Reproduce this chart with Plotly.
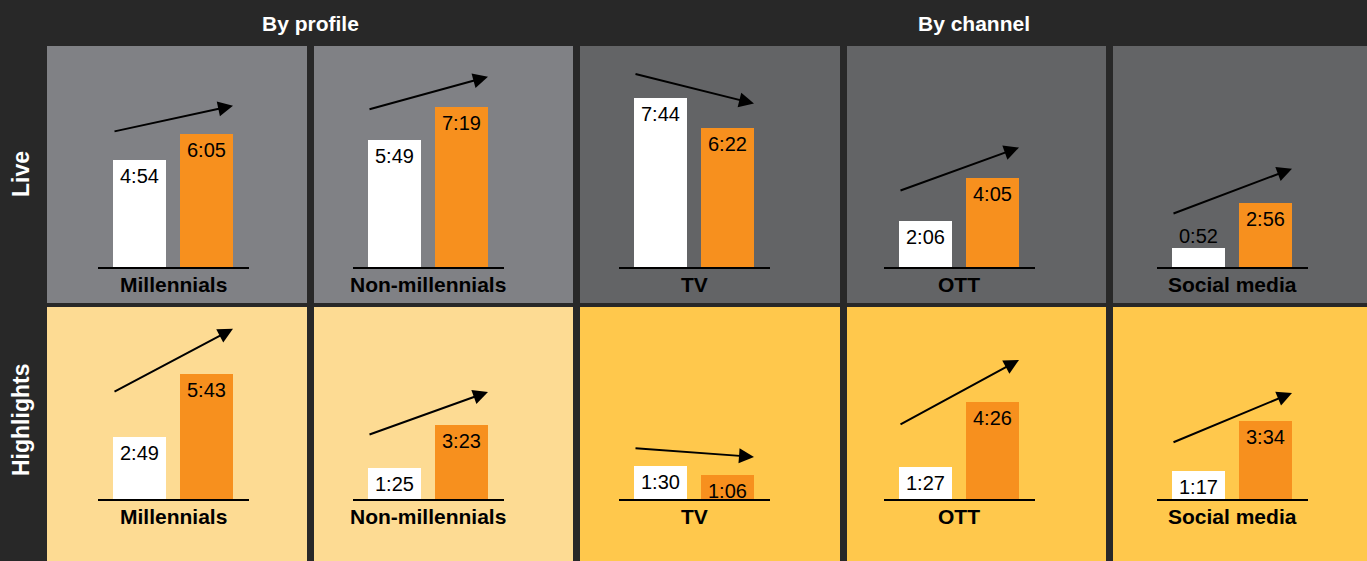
import plotly.graph_objects as go

# ---------------- data ----------------
panel_labels = ["Millennials", "Non-millennials", "TV", "OTT", "Social media"]
group_titles = ["By profile", "By channel"]
row_titles = ["Live", "Highlights"]

live_before = ["4:54", "5:49", "7:44", "2:06", "0:52"]
live_after = ["6:05", "7:19", "6:22", "4:05", "2:56"]
highlights_before = ["2:49", "1:25", "1:30", "1:27", "1:17"]
highlights_after = ["5:43", "3:23", "1:06", "4:26", "3:34"]

# ---------------- style / layout ----------------
W, H = 1367, 561
BG = "#282828"
WHITE = "#FFFFFF"
ORANGE = "#F7901E"
PANEL_COLORS = [
    ["#808185", "#808185", "#636466", "#636466", "#636466"],
    ["#FDDB93", "#FDDB93", "#FFC84C", "#FFC84C", "#FFC84C"],
]
PANEL_X = [(47, 307), (314, 573), (580, 840), (847, 1106), (1113, 1367)]
PANEL_Y = [(46, 303), (307, 561)]
BASE_X0 = [98, 353, 619, 884, 1157]   # left end of baseline (px)
BASE_W = 151                           # baseline length (px)
BASE_Y = [267, 499]                    # baseline y (px)
PX_PER_UNIT = 67                       # px between bar centres
BAR_W_PX = 53
FIRST_BAR_PX = 41.5                    # first bar centre from baseline start
PX_PER_SEC = 0.365
ARROW_GAP_PX = [[28, 30, 24, 30, 34], [45, 33, 18, 42, 28]]

FONT = "Liberation Sans, Arial, sans-serif"


def to_sec(s):
    m, sec = s.split(":")
    return int(m) * 60 + int(sec)


rows = [(live_before, live_after), (highlights_before, highlights_after)]

fig = go.Figure()
shapes = []
annotations = []
layout_axes = {}

x_lo = -FIRST_BAR_PX / PX_PER_UNIT
x_hi = (BASE_W - FIRST_BAR_PX) / PX_PER_UNIT
bar_w = BAR_W_PX / PX_PER_UNIT
half_bar = bar_w / 2

idx = 0
for r, (before, after) in enumerate(rows):
    py0, py1 = PANEL_Y[r]
    y_top_sec = (BASE_Y[r] - py0) / PX_PER_SEC
    for c in range(5):
        idx += 1
        sfx = "" if idx == 1 else str(idx)
        xa, ya = "x" + sfx, "y" + sfx
        px0, px1 = PANEL_X[c]
        # panel background
        shapes.append(dict(type="rect", xref="paper", yref="paper",
                           x0=px0 / W, x1=px1 / W, y0=1 - py1 / H, y1=1 - py0 / H,
                           fillcolor=PANEL_COLORS[r][c], line=dict(width=0), layer="below"))
        vals = [to_sec(before[c]), to_sec(after[c])]
        texts = [before[c], after[c]]
        fig.add_trace(go.Bar(x=[0, 1], y=vals, width=bar_w,
                             marker=dict(color=[WHITE, ORANGE], line=dict(width=0)),
                             xaxis=xa, yaxis=ya, hoverinfo="skip", showlegend=False))
        layout_axes["xaxis" + sfx] = dict(
            domain=[BASE_X0[c] / W, (BASE_X0[c] + BASE_W) / W],
            range=[x_lo, x_hi], anchor=ya, showgrid=False, zeroline=False,
            showticklabels=False, ticks="", showline=True, linecolor="#000000",
            linewidth=2, fixedrange=True)
        layout_axes["yaxis" + sfx] = dict(
            domain=[1 - BASE_Y[r] / H, 1 - py0 / H],
            range=[0, y_top_sec], anchor=xa, showgrid=False, zeroline=False,
            showticklabels=False, ticks="", showline=False, fixedrange=True)
        # value labels
        for i, (v, t) in enumerate(zip(vals, texts)):
            if v * PX_PER_SEC < 22:
                annotations.append(dict(x=i, y=v, xref=xa, yref=ya, text=t, showarrow=False,
                                        xanchor="center", yanchor="bottom", yshift=-1,
                                        font=dict(family=FONT, size=20, color="#000000")))
            else:
                annotations.append(dict(x=i, y=v, xref=xa, yref=ya, text=t, showarrow=False,
                                        xanchor="center", yanchor="middle", yshift=-16,
                                        font=dict(family=FONT, size=20, color="#000000")))
        # category label
        annotations.append(dict(x=0.5, y=0, xref=xa, yref=ya, text="<b>%s</b>" % panel_labels[c],
                                showarrow=False, xanchor="center", yanchor="middle", yshift=-17,
                                font=dict(family=FONT, size=21, color="#000000")))
        # trend arrow
        gap = ARROW_GAP_PX[r][c] / PX_PER_SEC
        annotations.append(dict(x=1 + half_bar, y=vals[1] + gap, ax=0 - half_bar, ay=vals[0] + gap,
                                xref=xa, yref=ya, axref=xa, ayref=ya, text="", showarrow=True,
                                arrowhead=2, arrowsize=1.5, arrowwidth=2, arrowcolor="#000000",
                                standoff=0, startstandoff=0))

# group headers
annotations.append(dict(x=(PANEL_X[0][0] + PANEL_X[1][1]) / 2 / W, y=1 - 23 / H, xref="paper", yref="paper",
                        text="<b>%s</b>" % group_titles[0], showarrow=False,
                        xanchor="center", yanchor="middle",
                        font=dict(family=FONT, size=21, color="#FFFFFF")))
annotations.append(dict(x=(PANEL_X[2][0] + PANEL_X[4][1]) / 2 / W, y=1 - 23 / H, xref="paper", yref="paper",
                        text="<b>%s</b>" % group_titles[1], showarrow=False,
                        xanchor="center", yanchor="middle",
                        font=dict(family=FONT, size=21, color="#FFFFFF")))
# row titles
annotations.append(dict(x=21 / W, y=1 - 174 / H, xref="paper", yref="paper",
                        text="<b>%s</b>" % row_titles[0], showarrow=False, textangle=-90,
                        xanchor="center", yanchor="middle",
                        font=dict(family=FONT, size=23, color="#FFFFFF")))
annotations.append(dict(x=21 / W, y=1 - 420 / H, xref="paper", yref="paper",
                        text="<b>%s</b>" % row_titles[1], showarrow=False, textangle=-90,
                        xanchor="center", yanchor="middle",
                        font=dict(family=FONT, size=23, color="#FFFFFF")))

fig.update_layout(
    width=W, height=H, margin=dict(l=0, r=0, t=0, b=0),
    paper_bgcolor=BG, plot_bgcolor="rgba(0,0,0,0)",
    shapes=shapes, annotations=annotations, bargap=0, showlegend=False,
    **layout_axes,
)

fig.write_html("out.html", config={"displayModeBar": False},
               post_script="document.body.style.margin='0';")
